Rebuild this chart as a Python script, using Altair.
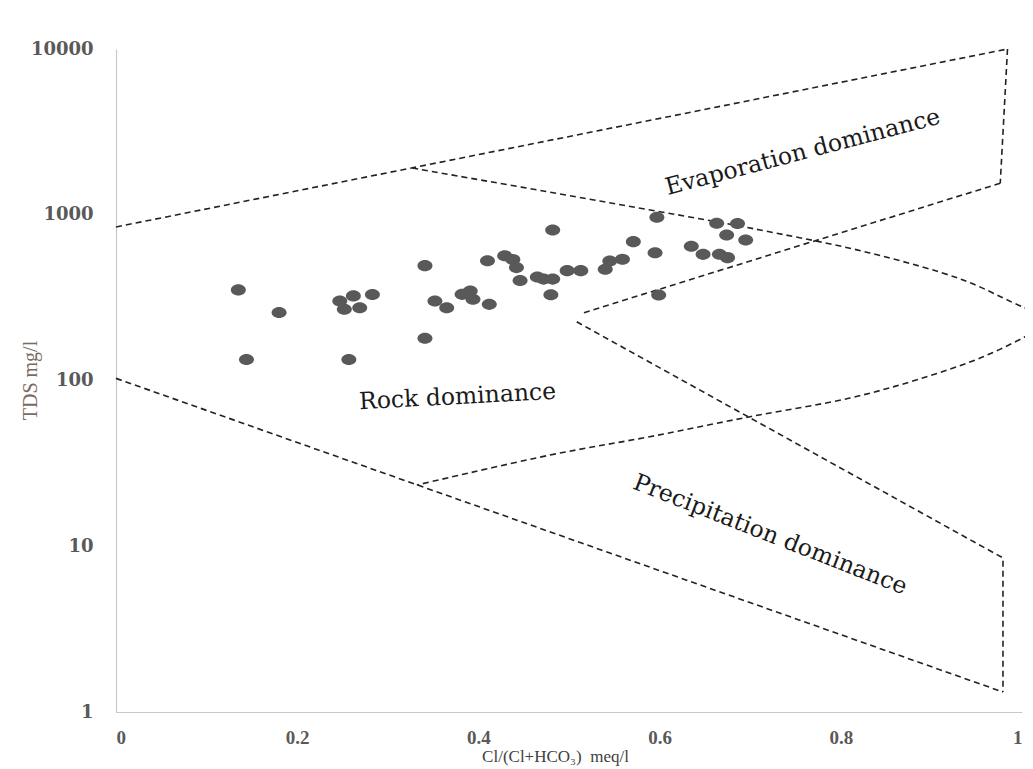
import altair as alt
import pandas as pd

# ---- sample points (Cl/(Cl+HCO3), TDS mg/l) ----
ratio = [0.135, 0.180, 0.144, 0.247, 0.262, 0.283, 0.252, 0.269, 0.257, 0.341,
         0.341, 0.352, 0.365, 0.382, 0.391, 0.394, 0.412, 0.410, 0.429, 0.438,
         0.442, 0.446, 0.482, 0.465, 0.472, 0.482, 0.498, 0.513, 0.480, 0.540,
         0.545, 0.559, 0.571, 0.595, 0.597, 0.599, 0.635, 0.648, 0.666, 0.675,
         0.663, 0.686, 0.674, 0.695]
tds = [352, 257, 134, 302, 324, 330, 269, 275, 134, 493,
       180, 302, 275, 331, 347, 309, 288, 528, 566, 537,
       480, 401, 809, 421, 409, 409, 460, 460, 329, 469,
       526, 539, 688, 590, 966, 328, 645, 577, 578, 551,
       888, 885, 755, 704]

# ---- Gibbs boundary lines ----
seg_names = ["outer_top", "outer_top", "evap_right", "evap_right", "evap_low", "evap_low",
             "precip", "precip", "precip", "outer_low", "outer_low"]
seg_x = [0.0, 0.984, 0.984, 0.976, 0.976, 0.516, 0.5085, 0.979, 0.979, 0.0, 0.979]
seg_y = [844, 10000, 10000, 1550, 1550, 256, 226, 8.5, 1.32, 103, 1.32]

# ---- inner (rock dominance) curve ----
curve_x = [0.327, 0.534, 0.711, 0.832, 0.935, 0.990, 1.015, 1.028,
           1.015, 0.957, 0.884, 0.810, 0.700, 0.589, 0.479, 0.332]
curve_y = [1914, 1210, 809, 588, 404, 295, 255, 228,
           200, 139, 101, 78.4, 60.5, 45.8, 35.5, 23.4]

# ---- region labels ----
lab_text = ["Evaporation dominance", "Rock dominance", "Precipitation dominance"]
lab_x = [0.758, 0.377, 0.722]
lab_y = [2377, 79.5, 11.7]
lab_angle = [345.3, 357, 21.4]

x_ticks = [0, 0.2, 0.4, 0.6, 0.8, 1]
y_ticks = [1, 10, 100, 1000, 10000]

pts = pd.DataFrame({"x": ratio, "y": tds})
segs = pd.DataFrame({"seg": seg_names, "x": seg_x, "y": seg_y,
                     "o": list(range(len(seg_x)))})
curve = pd.DataFrame({"x": curve_x, "y": curve_y, "o": list(range(len(curve_x)))})
labs = pd.DataFrame({"t": lab_text, "x": lab_x, "y": lab_y, "a": lab_angle})

xs = alt.Scale(domain=[0, 1], nice=False, zero=False)
ys = alt.Scale(type="log", domain=[1, 10000], nice=False)

xax = alt.Axis(values=x_ticks, format="~g", grid=False, ticks=False,
               domainColor="#c8c8c8", domainWidth=1.2,
               labelFont="Liberation Serif", labelFontWeight="bold", labelFontSize=19,
               labelColor="#595959", labelPadding=16,
               title="Cl/(Cl+HCO₃)\u00a0\u00a0meq/l", titleFont="Liberation Serif",
               titleFontWeight="normal", titleFontSize=17, titleColor="#404040",
               titleX=439, titleY=44, titleBaseline="middle")
yax = alt.Axis(values=y_ticks, format="d", grid=False, ticks=False,
               domainColor="#c8c8c8", domainWidth=1.2,
               labelFont="DejaVu Serif", labelFontWeight="bold", labelFontSize=18,
               labelColor="#595959", labelPadding=23,
               title="TDS mg/l", titleFont="Liberation Serif", titleFontWeight="normal",
               titleFontSize=20, titleColor="#7a6a62",
               titleX=-86, titleY=331, titleAngle=270, titleAlign="center",
               titleBaseline="middle")

base_x = alt.X("x:Q", scale=xs, axis=xax)
base_y = alt.Y("y:Q", scale=ys, axis=yax)

lines = alt.Chart(segs).mark_line(color="#222222", strokeWidth=1.6,
                                  strokeDash=[6, 4]).encode(
    x=base_x, y=base_y, detail="seg:N", order="o:Q")

curve_layer = alt.Chart(curve).mark_line(color="#222222", strokeWidth=1.6,
                                         strokeDash=[6, 4],
                                         interpolate="catmull-rom").encode(
    x=alt.X("x:Q", scale=xs), y=alt.Y("y:Q", scale=ys), order="o:Q")

ellipse = "M-1,0 A1,0.74 0 1,0 1,0 A1,0.74 0 1,0 -1,0 Z"
points = alt.Chart(pts).mark_point(filled=True, shape=ellipse, size=225,
                                   color="#595959", opacity=1).encode(
    x=alt.X("x:Q", scale=xs), y=alt.Y("y:Q", scale=ys))

texts = alt.Chart(labs).mark_text(font="DejaVu Serif", fontSize=23.5,
                                  color="#1a1a1a", baseline="middle",
                                  align="center").encode(
    x=alt.X("x:Q", scale=xs), y=alt.Y("y:Q", scale=ys),
    text="t:N", angle=alt.Angle("a:Q", scale=None))

chart = alt.layer(lines, curve_layer, points, texts).properties(
    width=906, height=663,
    autosize=alt.AutoSizeParams(type="none"),
    padding={"left": 108, "top": 41, "right": 3, "bottom": 56},
    background="white",
).configure_view(stroke=None)

chart.save("out.html", embed_options={"renderer": "svg", "actions": False})
